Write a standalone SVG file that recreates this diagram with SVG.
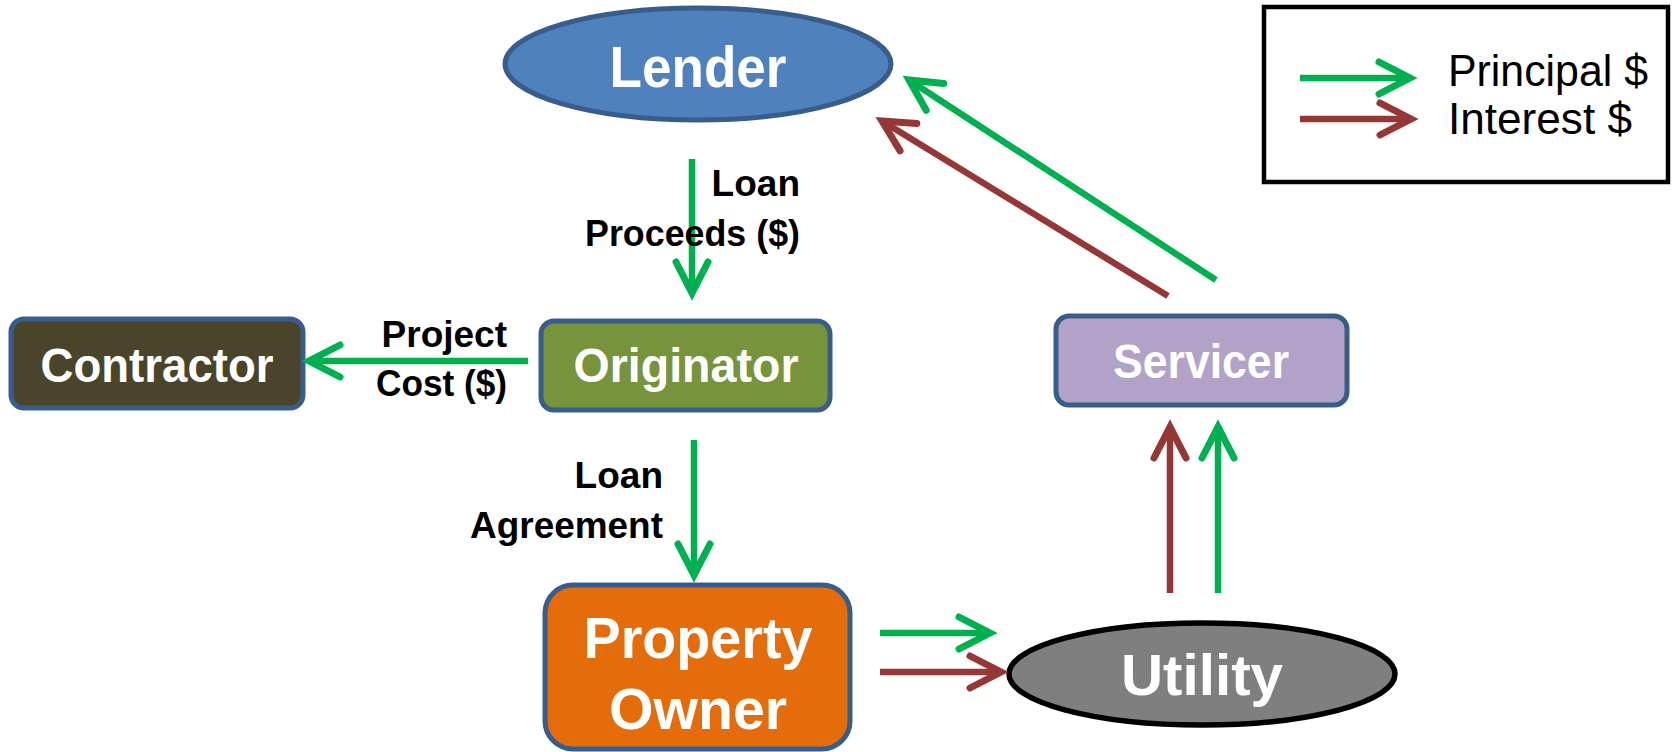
<svg xmlns="http://www.w3.org/2000/svg" width="1673" height="752" viewBox="0 0 1673 752">
  <defs>
    <style>
      .node-label { font-family: "Liberation Sans", Arial, sans-serif; font-weight: bold; fill: #ffffff; text-anchor: middle; }
      .edge-label { font-family: "Liberation Sans", Arial, sans-serif; font-weight: bold; fill: #000000; font-size: 37px; text-anchor: end; }
      .legend-text { font-family: "Liberation Sans", Arial, sans-serif; fill: #000000; font-size: 44px; }
      .box { stroke: #385D8A; stroke-width: 5; }
      .principal { fill: none; stroke: #00B050; stroke-width: 6.5; marker-end: url(#head-green); }
      .interest { fill: none; stroke: #953735; stroke-width: 6.5; marker-end: url(#head-red); }
    </style>
    <marker id="head-green" markerUnits="userSpaceOnUse" markerWidth="60" markerHeight="60" viewBox="-40 -30 60 60" refX="0" refY="0" orient="auto" overflow="visible">
      <path d="M-31,-16 L0,0 L-31,16" fill="none" stroke="#00B050" stroke-width="7" stroke-linecap="round" stroke-linejoin="miter"/>
    </marker>
    <marker id="head-red" markerUnits="userSpaceOnUse" markerWidth="60" markerHeight="60" viewBox="-40 -30 60 60" refX="0" refY="0" orient="auto" overflow="visible">
      <path d="M-31,-16 L0,0 L-31,16" fill="none" stroke="#953735" stroke-width="7" stroke-linecap="round" stroke-linejoin="miter"/>
    </marker>
  </defs>

  <rect x="0" y="0" width="1673" height="752" fill="#ffffff"/>

  <!-- Legend -->
  <g id="legend">
    <rect x="1264" y="7" width="404" height="175" fill="#ffffff" stroke="#000000" stroke-width="4.5"/>
    <line class="principal" x1="1300" y1="78" x2="1410" y2="78"/>
    <line class="interest" x1="1300" y1="119" x2="1411" y2="119"/>
    <text class="legend-text" x="1448" y="86" textLength="200" lengthAdjust="spacingAndGlyphs">Principal $</text>
    <text class="legend-text" x="1448" y="134" textLength="184" lengthAdjust="spacingAndGlyphs">Interest $</text>
  </g>

  <!-- Nodes -->
  <g id="lender">
    <ellipse cx="698" cy="64" rx="193" ry="56" fill="#4F81BD" stroke="#385D8A" stroke-width="5"/>
    <text class="node-label" x="698" y="87" font-size="57" textLength="177" lengthAdjust="spacingAndGlyphs">Lender</text>
  </g>

  <g id="contractor">
    <rect class="box" x="11" y="319" width="292" height="89" rx="13" fill="#4A452A"/>
    <text class="node-label" x="157" y="382" font-size="48" textLength="233" lengthAdjust="spacingAndGlyphs">Contractor</text>
  </g>

  <g id="originator">
    <rect class="box" x="541" y="321" width="289" height="89" rx="13" fill="#77933C"/>
    <text class="node-label" x="686" y="382" font-size="48" textLength="225" lengthAdjust="spacingAndGlyphs">Originator</text>
  </g>

  <g id="servicer">
    <rect class="box" x="1056" y="316" width="291" height="89" rx="13" fill="#B2A2C7"/>
    <text class="node-label" x="1201" y="378" font-size="48" textLength="176" lengthAdjust="spacingAndGlyphs">Servicer</text>
  </g>

  <g id="property-owner">
    <rect class="box" x="545" y="585" width="305" height="164" rx="28" fill="#E46C0A"/>
    <text class="node-label" x="698" y="658" font-size="58" textLength="229" lengthAdjust="spacingAndGlyphs">Property</text>
    <text class="node-label" x="698" y="729" font-size="58" textLength="178" lengthAdjust="spacingAndGlyphs">Owner</text>
  </g>

  <g id="utility">
    <ellipse cx="1202" cy="674" rx="193" ry="51" fill="#7F7F7F" stroke="#000000" stroke-width="5.5"/>
    <text class="node-label" x="1202" y="695" font-size="58" textLength="162" lengthAdjust="spacingAndGlyphs">Utility</text>
  </g>

  <!-- Connectors -->
  <g id="connectors">
    <line class="principal" x1="692" y1="159" x2="692" y2="293"/>
    <line class="principal" x1="528" y1="361" x2="309" y2="361"/>
    <line class="principal" x1="694" y1="440" x2="694" y2="575"/>
    <line class="principal" x1="880" y1="633" x2="990" y2="633"/>
    <line class="interest" x1="880" y1="672" x2="1001" y2="672"/>
    <line class="interest" x1="1170" y1="593" x2="1170" y2="427"/>
    <line class="principal" x1="1218" y1="593" x2="1218" y2="427"/>
    <line class="principal" x1="1216" y1="280" x2="909" y2="80"/>
    <line class="interest" x1="1168" y1="296" x2="882" y2="121"/>
  </g>

  <!-- Flow labels -->
  <g id="labels">
    <text class="edge-label" x="800" y="196">Loan</text>
    <text class="edge-label" x="800" y="246" textLength="215" lengthAdjust="spacingAndGlyphs">Proceeds ($)</text>
    <text class="edge-label" x="507" y="347">Project</text>
    <text class="edge-label" x="507" y="396" textLength="131" lengthAdjust="spacingAndGlyphs">Cost ($)</text>
    <text class="edge-label" x="663" y="488">Loan</text>
    <text class="edge-label" x="663" y="538" textLength="193" lengthAdjust="spacingAndGlyphs">Agreement</text>
  </g>
</svg>
